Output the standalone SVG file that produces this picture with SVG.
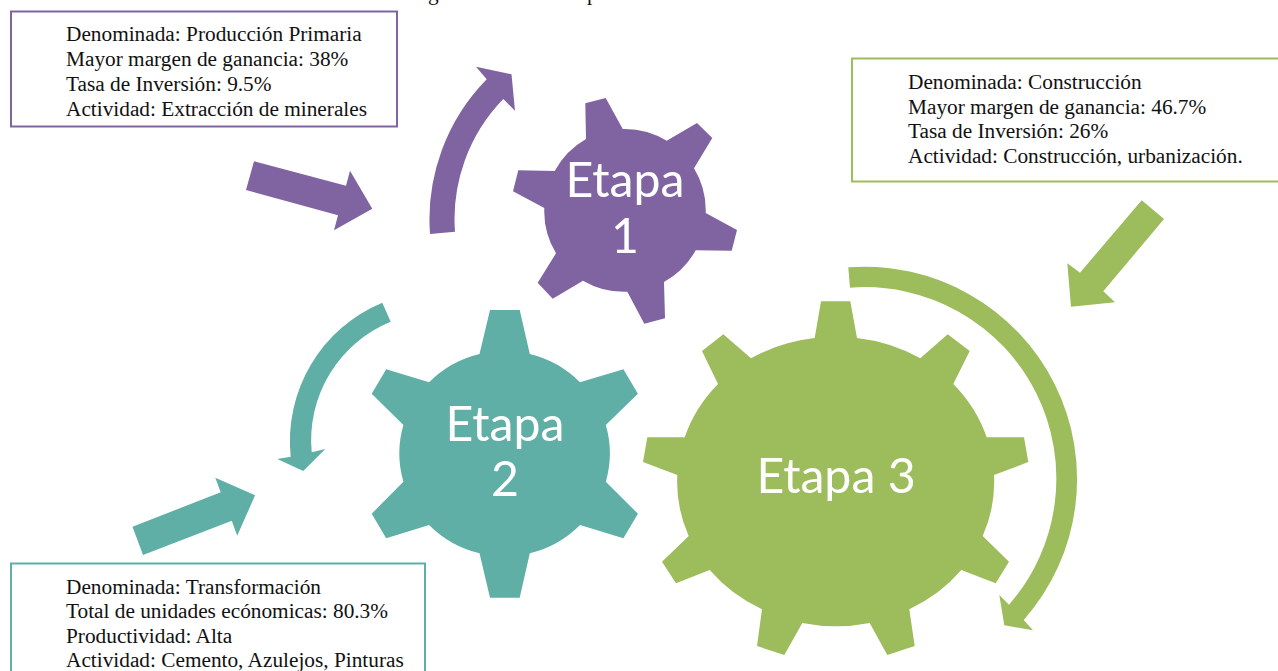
<svg xmlns="http://www.w3.org/2000/svg" width="1278" height="671" viewBox="0 0 1278 671">
<style>
.p{fill:#8064a2}.t{fill:#5fafa6}.g{fill:#9dbc5b}
.box{fill:#fff;stroke-width:2}
.info{font-family:"Liberation Serif","Times New Roman",serif;font-size:21.3px;fill:#111}
.lab{font-family:Lato,"Noto Sans",sans-serif;font-size:48.2px;fill:#fff;text-anchor:middle}
</style>
<rect width="1278" height="671" fill="#fff"/>
<text class="info" x="428" y="0">g</text>
<text class="info" x="587" y="0">p</text>
<g id="connectors">
<path class="p" d="M254 161.3L346 185.7L350 170.7L372.3 208.7L334 230.3L338 215.3L246 190Z"/>
<path class="p" d="M430 234A200 200 0 0 1 486.7 79.3L476 66.7L511.5 74.3L515 110.7L503.3 99A172 172 0 0 0 455 231.7Z"/>
<path class="g" d="M1141.7 200.3L1164 219L1103.3 291.3L1115 302.3L1071 306.7L1067.3 263.3L1080 272.7Z"/>
<path class="g" d="M848.3 267.3A212.5 212.5 0 0 1 1023.7 620L1033 630.3L1004.3 625.3L999.3 595L1009 604.7A191.5 191.5 0 0 0 850 287.7Z"/>
<path class="t" d="M132.5 526.7L220.7 492.3L215.3 477.7L255.1 495.3L237.2 535.7L231.8 520.7L143 555Z"/>
<path class="t" d="M382.3 302.7A150 150 0 0 0 290.7 456.7L277.3 459L303.3 471L325.3 449L311.7 452.3A128 128 0 0 1 390.7 321.7Z"/>
</g>
<g id="etapa1">
<path class="p" d="M585.3 103.3L605.7 98L622.7 129A81 81 0 0 1 666.7 140.7L697 123L712.3 138L694 168.3A81 81 0 0 1 705.7 213L737 230L731.7 250.7L695.7 250.3A81 81 0 0 1 664 282L665 318.3L644.3 323.7L627.3 291.7A81 81 0 0 1 583 280.7L552.7 298.7L537.7 282.7L556 253.3A81 81 0 0 1 544.3 208L513 191.3L518.3 170.3L554.7 171A81 81 0 0 1 586 139Z"/>
<text class="lab" x="625" y="197">Etapa</text>
<text class="lab" x="625" y="252.5">1</text>
</g>
<g id="etapa2">
<path class="t" d="M490 310L519.7 310L529.8 354A105 103 0 0 1 580 382.3L623.4 369.3L637.9 393.7L605.8 425A105 103 0 0 1 605.8 481.7L637.9 513.7L623.4 538.3L580 525A105 103 0 0 1 529.8 553.3L519.7 597.7L490 597.7L479.5 553.3A105 103 0 0 1 429.1 525L386.2 538.3L371.7 513.7L403.4 481.7A105 103 0 0 1 403.4 425L371.7 393.7L386.2 369.3L429.1 382.3A105 103 0 0 1 479.5 354Z"/>
<text class="lab" x="505" y="440.5">Etapa</text>
<text class="lab" x="505" y="495.5">2</text>
</g>
<g id="etapa3">
<path class="g" d="M821 301.3L850.3 301.3L857 338A158 144 0 0 1 920.3 358.3L947.7 334.3L969.7 351L953.3 384A158 144 0 0 1 986.7 437.3L1024 437.3L1028.3 462L994 475A158 144 0 0 1 982.7 536L1009 561.7L995.7 583.3L961.3 570A158 144 0 0 1 909.3 609.3L914.7 646L887.3 655L869.7 623A158 144 0 0 1 802.3 623L784.3 655L757 646L762 609.3A158 144 0 0 1 709.7 570L676 583.3L662 561.7L688.7 536A158 144 0 0 1 677.3 475L643 462L647.3 437.3L684.7 437.3A158 144 0 0 1 718 384L702 351L723.3 334.3L751 358.3A158 144 0 0 1 814.7 338Z"/>
<text class="lab" x="836" y="493">Etapa 3</text>
</g>
<g id="info1">
<rect class="box" x="11" y="11.5" width="386" height="115" stroke="#8064a2"/>
<text class="info" x="66" y="41">Denominada: Producción Primaria</text>
<text class="info" x="66" y="66">Mayor margen de ganancia: 38%</text>
<text class="info" x="66" y="90.5">Tasa de Inversión: 9.5%</text>
<text class="info" x="66" y="115.5">Actividad: Extracción de minerales</text>
</g>
<g id="info3">
<rect class="box" x="852" y="58.5" width="440" height="123" stroke="#9dbc5b"/>
<text class="info" x="908" y="88.8">Denominada: Construcción</text>
<text class="info" x="908" y="113.8">Mayor margen de ganancia: 46.7%</text>
<text class="info" x="908" y="137.8">Tasa de Inversión: 26%</text>
<text class="info" x="908" y="162.8">Actividad: Construcción, urbanización.</text>
</g>
<g id="info2">
<rect class="box" x="11" y="563.5" width="414" height="120" stroke="#5fafa6"/>
<text class="info" x="66" y="593.8">Denominada: Transformación</text>
<text class="info" x="66" y="618">Total de unidades ecónomicas: 80.3%</text>
<text class="info" x="66" y="642.8">Productividad: Alta</text>
<text class="info" x="66" y="667.2">Actividad: Cemento, Azulejos, Pinturas</text>
</g>
</svg>
